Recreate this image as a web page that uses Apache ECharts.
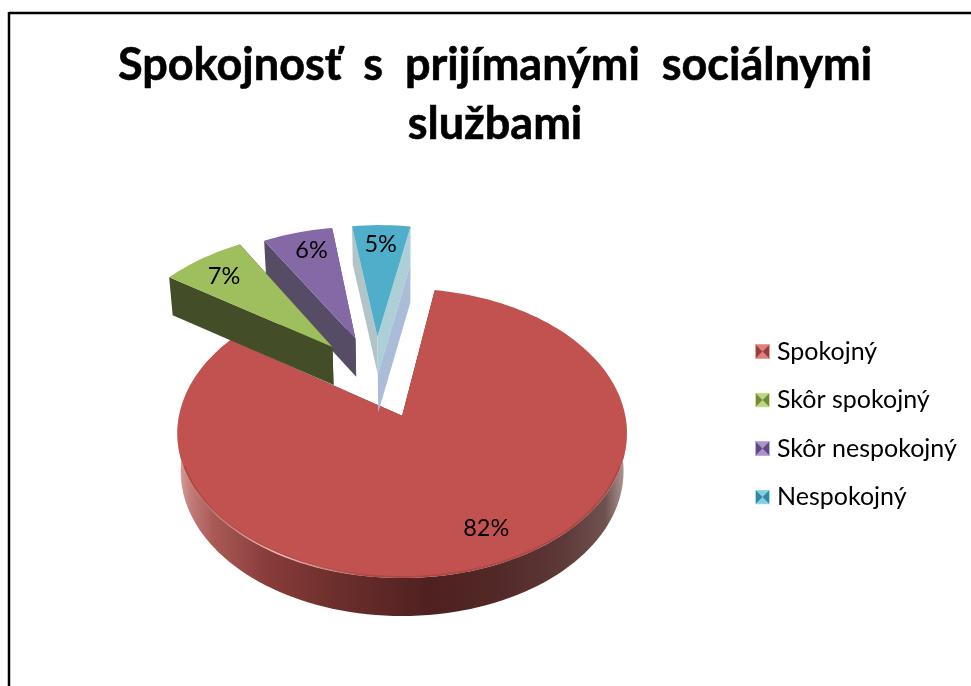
<!DOCTYPE html>
<html><head><meta charset="utf-8">
<style>html,body{margin:0;padding:0;background:#fff}#c{width:971px;height:686px}</style>
<script src="https://cdn.jsdelivr.net/npm/echarts@6/dist/echarts.min.js"></script>
</head><body><div id="c"></div>
<script>
var categories = ['Spokojný', 'Skôr spokojný', 'Skôr nespokojný', 'Nespokojný'];
var values = [82, 7, 6, 5];
var titleLines = ['Spokojnosť  s  prijímanými  sociálnymi', 'službami'];
var topColors = ['#c2524f', '#9fbe5d', '#8568a6', '#4fafca'];
var startWallColors = ['#5a2a28', '#434d27', '#574c66', '#b3c4c9'];
var endWallColors = ['#5a2a28', '#434d27', '#574c66', '#adcfd7'];
var labelReach = [0.8, 0.83, 0.81, 0.81];
var labelTurn = [-2.5, -1, 1.5, 0];
var sliceReach = [1, 1.035, 1, 1];
var drawOrder = [2, 5, 4, 3];
var legendDark = ['#93403e', '#6f8c3e', '#5f4884', '#35879e'];
var legendLight = ['#e07f7c', '#bcd87c', '#ab92c9', '#7fd0e6'];

var START_DEG = 9.4, TOTAL = values.reduce(function (a, b) { return a + b; }, 0);
var OX = 403, OY = 415, RX = 223, RY = 142.4, P = 0.121, DEPTH = 38;
var CU = -0.125, CV = -0.28, EXPLODE = 0.31;
var G = echarts.graphic;

function project(u, v, z) {
  var w = 1 / (1 - P * v), s = 1 - 0.015 * z;
  return [OX + RX * u * w * s, OY + RY * v * w + DEPTH * z];
}
function sliceOf(i) {
  var before = 0;
  for (var k = 0; k < i; k++) before += values[k];
  var a0 = START_DEG + before / TOTAL * 360, a1 = a0 + values[i] / TOTAL * 360;
  var mid = (a0 + a1) / 2 * Math.PI / 180;
  return { a0: a0, a1: a1, mid: mid, r: sliceReach[i],
    u: CU + EXPLODE * Math.sin(mid), v: CV - EXPLODE * Math.cos(mid) };
}
function arc(s, a0, a1, z, rad) {
  var pts = [], n = Math.max(2, Math.ceil(Math.abs(a1 - a0) / 2)), r = rad || s.r;
  for (var k = 0; k <= n; k++) {
    var t = (a0 + (a1 - a0) * k / n) * Math.PI / 180;
    pts.push(project(s.u + r * Math.sin(t), s.v - r * Math.cos(t), z));
  }
  return pts;
}
function wall(s, deg, z0, z1, fill) {
  var t = deg * Math.PI / 180, eu = s.u + s.r * Math.sin(t), ev = s.v - s.r * Math.cos(t);
  return { type: 'polygon', silent: true, shape: { points: [
    project(s.u, s.v, z0), project(eu, ev, z0), project(eu, ev, z1), project(s.u, s.v, z1)
  ] }, style: { fill: fill } };
}
var rimGradient = new G.LinearGradient(177, 0, 628, 0, [
  { offset: 0, color: '#d6a8a6' }, { offset: 0.03, color: '#c27c79' },
  { offset: 0.08, color: '#a95a57' }, { offset: 0.2, color: '#883c3a' },
  { offset: 0.35, color: '#6d2f2c' }, { offset: 0.56, color: '#4f2020' },
  { offset: 0.7, color: '#522827' }, { offset: 0.85, color: '#5c3837' },
  { offset: 0.95, color: '#6f5250' }, { offset: 0.99, color: '#a89492' },
  { offset: 1, color: '#d8cccb' }
], true);
var glint = new G.LinearGradient(190, 0, 370, 0, [
  { offset: 0, color: 'rgba(240,190,185,0)' }, { offset: 0.5, color: 'rgba(245,200,195,0.85)' },
  { offset: 1, color: 'rgba(240,190,185,0)' }
], true);
function renderSlice(i) {
  return function () {
    var s = sliceOf(i), kids = [];
    if (i === 0) {
      var outer = arc(s, 90, 270, 0), lower = arc(s, 270, 90, 1);
      kids.push({ type: 'polygon', silent: true, shape: { points: outer.concat(lower) }, style: { fill: rimGradient } });
    }
    kids.push(wall(s, s.a0, 0, 1, startWallColors[i]));
    kids.push(wall(s, s.a1, 0, 1, endWallColors[i]));
    if (i === categories.length - 1) kids.push(wall(s, s.a1, 1, 2, '#abbcd8'));
    var top = [project(s.u, s.v, 0)].concat(arc(s, s.a0, s.a1, 0));
    kids.push({ type: 'polygon', silent: true, shape: { points: top }, style: { fill: topColors[i] } });
    if (i === 0) {
      kids.push({ type: 'polyline', silent: true, shape: { points: arc(s, 110, 250, 0, 0.995) },
        style: { fill: 'none', stroke: 'rgba(125,50,48,0.3)', lineWidth: 2 } });
      kids.push({ type: 'polyline', silent: true, shape: { points: arc(s, 190, 250, 0, 0.998) },
        style: { fill: 'none', stroke: glint, lineWidth: 1.6 } });
    }
    var lr = labelReach[i], la = s.mid + labelTurn[i] * Math.PI / 180;
    var lp = project(s.u + lr * Math.sin(la), s.v - lr * Math.cos(la), 0);
    kids.push({ type: 'text', silent: true, style: { text: values[i] + '%', x: lp[0], y: lp[1],
      fill: '#000', font: '23.5px Lato', textAlign: 'center', textVerticalAlign: 'middle' } });
    return { type: 'group', children: kids };
  };
}
function bevelIcon(dark, light) {
  var svg = '<svg xmlns="http://www.w3.org/2000/svg" width="45" height="45" viewBox="0 0 15 15">' +
    '<rect width="15" height="15" fill="' + light + '" opacity="0.75"/>' +
    '<polygon points="1,1 14,1 7.5,7.5" fill="' + light + '"/>' +
    '<polygon points="1,14 14,14 7.5,7.5" fill="' + light + '"/>' +
    '<polygon points="1,1 1,14 7.5,7.5" fill="' + dark + '"/>' +
    '<polygon points="14,1 14,14 7.5,7.5" fill="' + dark + '"/></svg>';
  return 'image://data:image/svg+xml;charset=utf-8,' + encodeURIComponent(svg);
}

var chart = echarts.init(document.getElementById('c'), null, { renderer: 'canvas' });
chart.setOption({
  animation: false,
  backgroundColor: '#ffffff',
  title: {
    text: titleLines.join('\n'), left: 490, top: 31, textAlign: 'center',
    textStyle: { fontFamily: 'Lato', fontWeight: 'bold', fontSize: 45, lineHeight: 59, color: '#000',
      textBorderColor: '#000', textBorderWidth: 0.6 }
  },
  legend: {
    orient: 'vertical', left: 750, top: 334, itemGap: 23.5, itemWidth: 15, itemHeight: 15,
    selectedMode: false,
    textStyle: { fontFamily: 'Lato', fontSize: 25, lineHeight: 25, color: '#000', padding: [0, 0, 0, 2] },
    data: categories.map(function (n, i) {
      return { name: n, icon: bevelIcon(legendDark[i], legendLight[i]) };
    })
  },
  graphic: [
    { type: 'line', silent: true, shape: { x1: 9, y1: 13, x2: 971, y2: 13 }, style: { stroke: '#000', lineWidth: 2.5 } },
    { type: 'line', silent: true, shape: { x1: 9, y1: 12, x2: 9, y2: 686 }, style: { stroke: '#000', lineWidth: 2.5 } }
  ],
  series: categories.map(function (n, i) {
    return { type: 'custom', name: n, coordinateSystem: 'none', z: drawOrder[i], silent: true,
      itemStyle: { color: topColors[i] }, data: [[values[i]]], renderItem: renderSlice(i) };
  })
});
</script></body></html>
